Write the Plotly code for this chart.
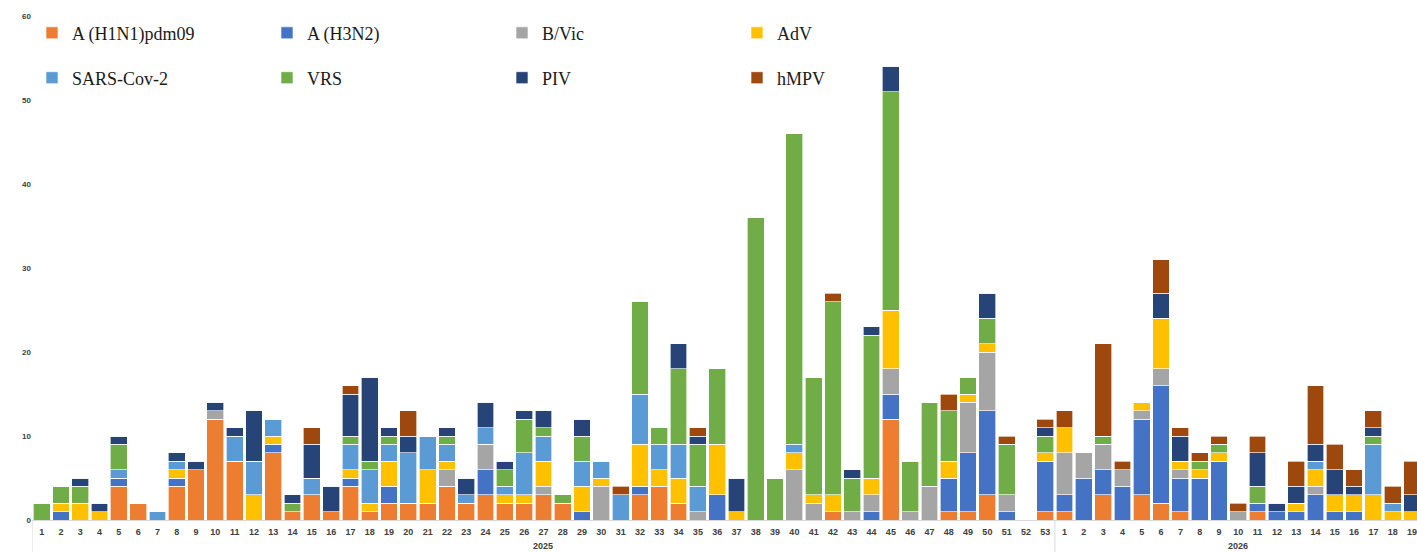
import plotly.graph_objects as go

weeks_2025 = [str(i) for i in range(1, 54)]
weeks_2026 = [str(i) for i in range(1, 20)]
year_labels = ["2025", "2026"]
weeks = weeks_2025 + weeks_2026
years = [year_labels[0]] * len(weeks_2025) + [year_labels[1]] * len(weeks_2026)
xcats = [f"{y}-S{w}" for y, w in zip(years, weeks)]

# values per week (2025 w1..w53, then 2026 w1..w19)
h1n1 = [0,0,0,0,4,2,0,4,6,12,7,0,8,1,3,1,4,1,2,2,2,4,2,3,2,2,3,2,0,0,0,3,4,2,0,0,0,0,0,0,0,1,0,0,12,0,0,1,1,3,0,0,1,
        1,0,3,0,3,2,1,0,0,0,1,0,0,0,0,0,0,0,0]
h3n2 = [0,1,0,0,1,0,0,1,0,0,0,0,1,0,0,0,1,0,2,0,0,0,0,3,0,0,0,0,1,0,0,1,0,0,0,3,0,0,0,0,0,0,0,1,3,0,0,4,7,10,1,0,6,
        2,5,3,4,9,14,4,5,7,0,1,1,1,3,1,1,0,0,0]
bvic = [0,0,0,0,0,0,0,0,0,1,0,0,0,0,0,0,0,0,0,0,0,2,0,3,0,0,1,0,0,4,0,0,0,0,1,0,0,0,0,6,2,0,1,2,3,1,4,0,6,7,2,0,0,
        5,3,3,2,1,2,1,0,0,1,0,0,0,1,0,0,0,0,0]
adv = [0,1,2,1,0,0,0,1,0,0,0,3,1,0,0,0,1,1,3,0,4,1,0,0,1,1,3,0,3,1,0,5,2,3,0,6,1,0,0,2,1,2,0,2,7,0,0,2,1,1,0,0,1,
       3,0,0,0,1,6,1,1,1,0,0,0,1,2,2,2,3,1,1]
sars = [0,0,0,0,1,0,1,1,0,0,3,4,2,0,2,0,3,4,2,6,4,2,1,2,1,5,3,0,3,2,3,6,3,4,3,0,0,0,0,1,0,0,0,0,0,0,0,0,0,0,0,0,0,
        0,0,0,0,0,0,0,0,0,0,0,0,0,1,0,0,6,1,0]
vrs = [2,2,2,0,3,0,0,0,0,0,0,0,0,1,0,0,1,1,1,0,0,1,0,0,2,4,1,1,3,0,0,11,2,9,5,9,0,36,5,37,14,23,4,17,26,6,10,6,2,3,6,0,2,
       0,0,1,0,0,0,0,1,1,0,2,0,0,0,0,0,1,0,0]
piv = [0,0,1,1,1,0,0,1,1,1,1,6,0,1,4,3,5,10,1,2,0,1,2,3,1,1,2,0,2,0,0,0,0,3,1,0,4,0,0,0,0,0,1,1,3,0,0,0,0,3,0,0,1,
       0,0,0,0,0,3,3,0,0,0,4,1,2,2,3,1,1,0,2]
hmpv = [0,0,0,0,0,0,0,0,0,0,0,0,0,0,2,0,1,0,0,3,0,0,0,0,0,0,0,0,0,0,1,0,0,0,1,0,0,0,0,0,0,1,0,0,0,0,0,2,0,0,1,0,1,
        2,0,11,1,0,4,1,1,1,1,2,0,3,7,3,2,2,2,4]

series = [
    ("A (H1N1)pdm09", h1n1, "#ED7D31", "legend"),
    ("A (H3N2)", h3n2, "#4472C4", "legend"),
    ("B/Vic", bvic, "#A5A5A5", "legend"),
    ("AdV", adv, "#FFC000", "legend"),
    ("SARS-Cov-2", sars, "#5B9BD5", "legend2"),
    ("VRS", vrs, "#70AD47", "legend2"),
    ("PIV", piv, "#264478", "legend2"),
    ("hMPV", hmpv, "#9E480E", "legend2"),
]

fig = go.Figure()
for name, vals, color, lg in series:
    fig.add_trace(go.Bar(
        x=xcats, y=vals, name=name, legend=lg,
        marker=dict(color=color, line=dict(color="rgba(255,255,255,0.8)", width=0.8)),
    ))

n25 = len(weeks_2025)
n_all = len(weeks)
x_max = 71.26

# year group labels and group dividers
tick_col = "#404040"
for i, yl in enumerate(year_labels):
    start = 0 if i == 0 else n25
    end = n25 - 1 if i == 0 else min(n_all - 1, x_max)
    fig.add_annotation(x=(start + end) / 2, xref="x", y=-0.051, yref="paper",
                       text=yl, showarrow=False, yanchor="middle",
                       font=dict(family="Liberation Sans", size=9, color=tick_col, weight="bold"))
for xd in [-0.5, n25 - 0.5]:
    fig.add_shape(type="line", xref="x", yref="paper", x0=xd, x1=xd, y0=0, y1=-0.07,
                  line=dict(color="#D9D9D9", width=1))

legend_font = dict(family="Liberation Serif", size=18, color="#1a1a1a")
fig.update_layout(
    barmode="stack",
    bargap=0.13,
    width=1417, height=552,
    margin=dict(l=32, r=0, t=16, b=32, autoexpand=False),
    paper_bgcolor="white", plot_bgcolor="white",
    showlegend=True,
    legend=dict(orientation="h", x=0, xanchor="left", y=0.966, yanchor="middle",
                entrywidth=190, font=legend_font, bgcolor="rgba(0,0,0,0)",
                traceorder="normal"),
    legend2=dict(orientation="h", x=0, xanchor="left", y=0.877, yanchor="middle",
                 entrywidth=190, font=legend_font, bgcolor="rgba(0,0,0,0)",
                 traceorder="normal"),
    xaxis=dict(
        type="category",
        range=[-0.5, x_max],
        tickmode="array", tickvals=xcats, ticktext=weeks, tickangle=0,
        showline=True, linecolor="#D9D9D9", linewidth=1,
        showgrid=False, ticks="", automargin=False, ticklabelstandoff=3,
        tickfont=dict(family="Liberation Sans", size=9, color=tick_col, weight="bold"),
    ),
    yaxis=dict(
        range=[0, 60], tickvals=[0, 10, 20, 30, 40, 50, 60],
        showgrid=False, zeroline=False, showline=False, ticks="",
        automargin=False,
        tickfont=dict(family="Liberation Sans", size=8, color=tick_col, weight="bold"),
    ),
)

fig.write_html("out.html", config={"displayModeBar": False},
               post_script="document.body.style.margin='0';")
